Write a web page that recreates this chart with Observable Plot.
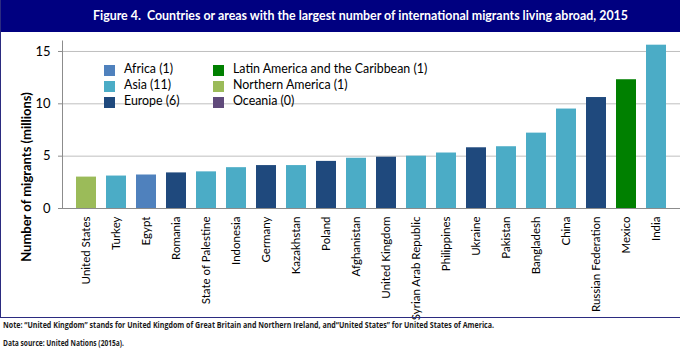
<!DOCTYPE html>
<html>
<head>
<meta charset="utf-8">
<script src="https://cdn.jsdelivr.net/npm/d3@7"></script>
<script src="https://cdn.jsdelivr.net/npm/@observablehq/plot@0.6"></script>
<style>
  html, body { margin: 0; padding: 0; background: #fff; }
  #wrap { position: relative; width: 680px; height: 351px; overflow: hidden; background: #fff; font-family: Lato, "Open Sans", sans-serif; }
  #frame { position: absolute; left: 0; top: 0; width: 720px; height: 318px; border-left: 1.5px solid #2B2B80; border-bottom: 1.5px solid #2B2B80; box-sizing: border-box; }
  #title { position: absolute; left: 0; top: 0; width: 680px; height: 32px; background: #000080; }
  #title span { position: absolute; left: 93px; top: 0; line-height: 32px; color: #fff; font-weight: bold; font-size: 12.4px; white-space: nowrap; }
  #chart { position: absolute; left: 0; top: 32px; }
  #ylabel { position: absolute; left: 26px; top: 177px; transform: translate(-50%, -50%) rotate(-90deg); font-weight: bold; font-size: 13px; white-space: nowrap; color: #000; }
  #legend { position: absolute; left: 0; top: 0; }
  .li { position: absolute; font-size: 12.4px; line-height: 16px; white-space: nowrap; color: #000; }
  .sw { position: absolute; width: 11px; height: 11px; }
  #notes { position: absolute; left: 0; top: 319px; }
</style>
</head>
<body>
<div id="wrap">
  <div id="title"><span></span></div>
  <div id="chart"></div>
  <div id="frame"></div>
  <div id="ylabel"></div>
  <div id="legend"></div>
  <svg id="notes" width="680" height="32"></svg>
</div>
<script>
const titleText = "Figure 4.\u00a0 Countries or areas with the largest number of international migrants living abroad, 2015";
const yLabel = "Number of migrants (millions)";
const noteText = "Note: \u201cUnited Kingdom\u201d stands for United Kingdom of Great Britain and Northern Ireland, and\u201cUnited States\u201d for United States of America.";
const sourceText = "Data source: United Nations (2015a).";

const countries = ["United States","Turkey","Egypt","Romania","State of Palestine","Indonesia","Germany","Kazakhstan","Poland","Afghanistan","United Kingdom","Syrian Arab Republic","Philippines","Ukraine","Pakistan","Bangladesh","China","Russian Federation","Mexico","India"];
const migrants = [3.0,3.1,3.2,3.4,3.5,3.9,4.1,4.1,4.5,4.8,4.9,5.0,5.3,5.8,5.9,7.2,9.5,10.6,12.3,15.6];
const regionOf = ["Northern America","Asia","Africa","Europe","Asia","Asia","Europe","Asia","Europe","Asia","Europe","Asia","Asia","Europe","Asia","Asia","Asia","Europe","Latin America and the Caribbean","Asia"];

const regionNames = ["Africa","Asia","Europe","Latin America and the Caribbean","Northern America","Oceania"];
const regionCounts = [1,11,6,1,1,0];
const regionColors = ["#4F81BD","#4BACC6","#1F497D","#008000","#9BBB59","#604A7B"];

const yTicks = [0,5,10,15];
const gridValues = [5,10,15];

const data = countries.map((c, i) => ({country: c, value: migrants[i], region: regionOf[i]}));

document.querySelector("#title span").textContent = titleText;
document.getElementById("ylabel").textContent = yLabel;

const chart = Plot.plot({
  width: 680,
  height: 286,
  marginTop: 8.5,
  marginBottom: 110,
  marginLeft: 62,
  marginRight: 0,
  style: {fontFamily: "Lato, 'Open Sans', sans-serif", fontSize: "13px", color: "#000", background: "transparent", overflow: "visible"},
  x: {domain: countries, paddingInner: 0.32, paddingOuter: 0.16, label: null},
  y: {domain: [0, 16], label: null},
  color: {domain: regionNames, range: regionColors},
  marks: [
    Plot.gridY(gridValues, {stroke: "#BFBFBF", strokeOpacity: 1, strokeWidth: 1}),
    Plot.barY(data, {x: "country", y: "value", fill: "region"}),
    Plot.frame({anchor: "left", stroke: "#8C8C8C"}),
    Plot.ruleY([0], {stroke: "#8C8C8C", strokeWidth: 1}),
    Plot.axisY({ticks: yTicks, tickSize: 4, tickPadding: 8, fontSize: 13, label: null, stroke: "#8C8C8C"}),
    Plot.axisX({tickRotate: -90, tickSize: 0, tickPadding: 8, fontSize: 11.5, label: null})
  ]
});
document.getElementById("chart").appendChild(chart);

// Legend
const legend = document.getElementById("legend");
const colX = [[104, 124], [213, 233]];
const rowY = [70, 86, 102];
regionNames.forEach((name, i) => {
  const col = Math.floor(i / 3), row = i % 3;
  const sw = document.createElement("div");
  sw.className = "sw";
  sw.style.left = colX[col][0] + "px";
  sw.style.top = (rowY[row] - 5.5) + "px";
  sw.style.background = regionColors[i];
  legend.appendChild(sw);
  const t = document.createElement("div");
  t.className = "li";
  t.style.left = colX[col][1] + "px";
  t.style.top = (rowY[row] - 9) + "px";
  t.textContent = `${name} (${regionCounts[i]})`;
  legend.appendChild(t);
});

// Notes
const notes = d3.select("#notes");
notes.append("text").attr("x", 3).attr("y", 9).attr("font-size", 8).attr("font-weight", "bold")
  .attr("font-family", "'Open Sans', sans-serif").attr("textLength", 491).attr("lengthAdjust", "spacingAndGlyphs")
  .attr("fill", "#1a1a1a").text(noteText);
notes.append("text").attr("x", 3).attr("y", 27).attr("font-size", 8).attr("font-weight", "bold")
  .attr("font-family", "'Open Sans', sans-serif").attr("textLength", 121).attr("lengthAdjust", "spacingAndGlyphs")
  .attr("fill", "#1a1a1a").text(sourceText);
</script>
</body>
</html>
